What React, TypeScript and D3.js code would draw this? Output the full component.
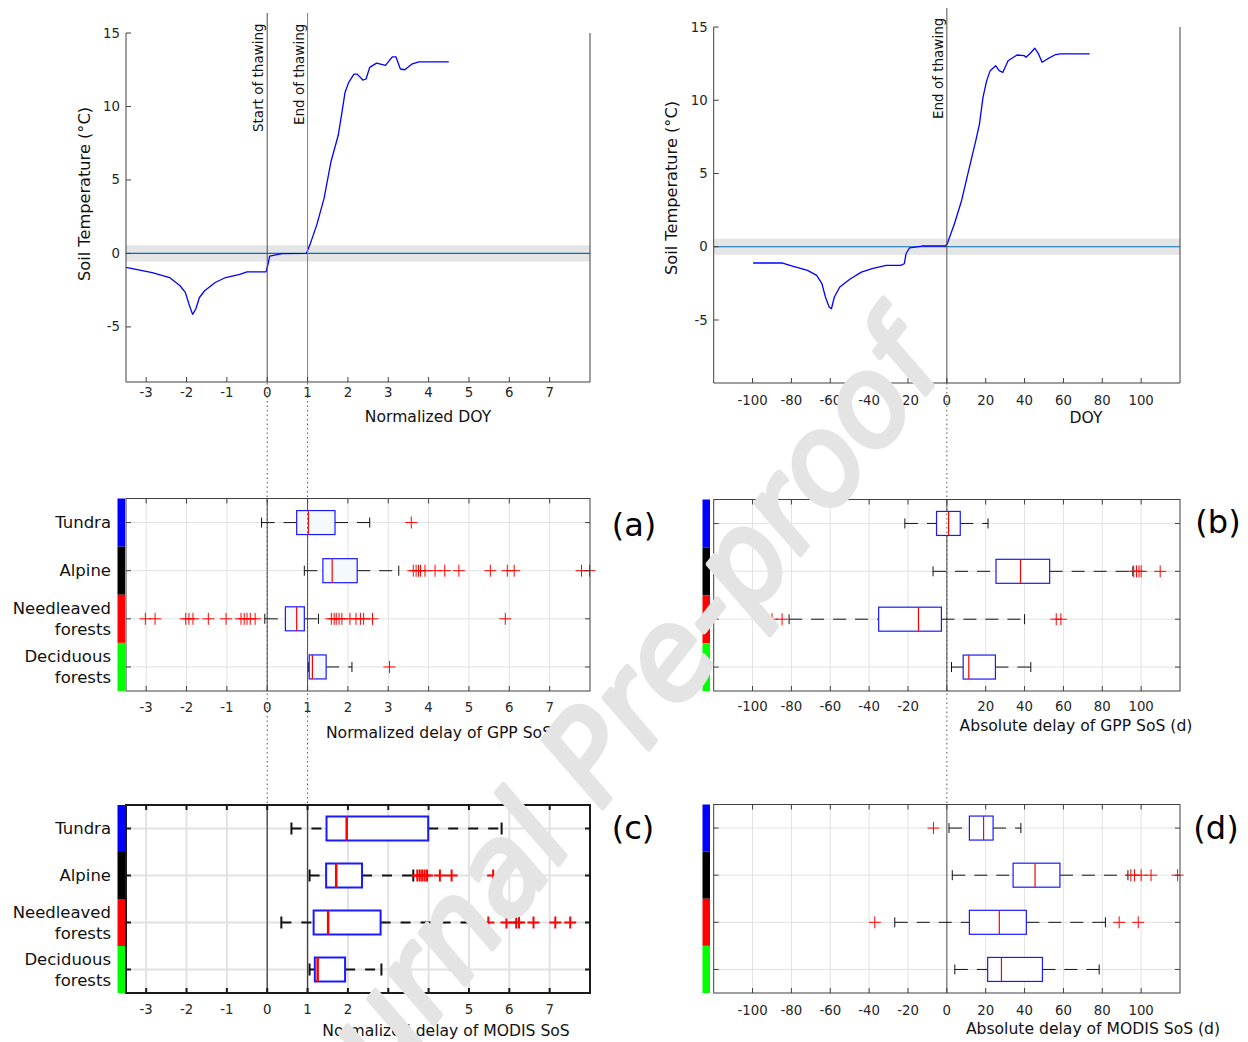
import React from "react";
import * as d3 from "d3";

const FONT = "'DejaVu Sans', Verdana, sans-serif";

// Soil temperature curve vs normalized DOY
const normCurve: [number, number][] = [
  [-3.5, -0.95], [-2.85, -1.3], [-2.42, -1.64], [-2.16, -2.2], [-2.03, -2.65], [-1.94, -3.44],
  [-1.85, -4.15], [-1.77, -3.78], [-1.68, -3.0], [-1.55, -2.54], [-1.29, -1.98], [-1.03, -1.64],
  [-0.68, -1.42], [-0.5, -1.26], [-0.03, -1.26], [0.02, -0.74], [0.06, -0.18], [0.37, -0.02],
  [0.97, 0], [1.06, 0.6], [1.23, 1.96], [1.41, 3.76], [1.58, 6.24], [1.76, 8.04], [1.84, 9.4],
  [1.93, 10.97], [2.02, 11.64], [2.15, 12.2], [2.23, 12.2], [2.37, 11.8], [2.45, 11.87],
  [2.54, 12.66], [2.71, 12.95], [2.93, 12.8], [3.1, 13.38], [3.19, 13.38], [3.3, 12.55],
  [3.41, 12.5], [3.58, 12.88], [3.76, 13.04], [4.5, 13.04],
];

// Soil temperature curve vs DOY
const doyCurve: [number, number][] = [
  [-99.7, -1.11], [-84.6, -1.11], [-79, -1.34], [-71.7, -1.61], [-67, -1.95], [-64.3, -2.52],
  [-62.5, -3.43], [-60.6, -4.11], [-59.4, -4.23], [-57.9, -3.43], [-55.1, -2.75], [-49.6, -2.18],
  [-44, -1.73], [-38.5, -1.5], [-31.2, -1.27], [-23.8, -1.27], [-21.9, -1.16], [-21, -0.48],
  [-19.2, -0.07], [-12.7, 0.05], [-0.7, 0.05], [0.2, 0.2], [3.9, 1.57], [7.6, 3.16], [11.2, 5.2],
  [14.9, 7.25], [16.8, 8.39], [18.6, 10.2], [20.5, 11.34], [22.3, 12.02], [25.1, 12.36],
  [26.9, 12.02], [28.8, 11.9], [31.5, 12.7], [36.1, 13.09], [39.8, 13.05], [40.7, 12.93],
  [42.6, 13.16], [45.3, 13.55], [47.2, 13.16], [49, 12.59], [51.8, 12.82], [55.5, 13.09],
  [58.2, 13.16], [73.5, 13.16],
];

const categories = ["Tundra", "Alpine", "Needleaved forests", "Deciduous forests"];
const categoryLines = [["Tundra"], ["Alpine"], ["Needleaved", "forests"], ["Deciduous", "forests"]];
const categoryColors = ["#0000ff", "#000000", "#ff0000", "#00ff00"];

// [lower whisker, q1, median, q3, upper whisker]
const gppNormBoxes = [
  [-0.14, 0.73, 1.02, 1.68, 2.54],
  [0.92, 1.38, 1.61, 2.23, 3.26],
  [-0.06, 0.45, 0.73, 0.92, 1.27],
  [1.02, 1.04, 1.12, 1.46, 2.1],
];
const gppNormOutliers = [
  [3.57],
  [3.62, 3.69, 3.75, 3.8, 3.91, 4.16, 4.4, 4.75, 5.53, 5.95, 6.12, 7.79, 7.99],
  [-3.02, -2.78, -2.02, -1.94, -1.84, -1.46, -1.02, -0.65, -0.57, -0.5, -0.42, -0.3,
    1.59, 1.66, 1.71, 1.78, 1.85, 2.05, 2.2, 2.31, 2.39, 2.61, 5.9],
  [3.03],
];

const gppAbsBoxes = [
  [-21.6, -5.3, 0.9, 6.9, 21.2],
  [-7.1, 25.3, 37.9, 52.9, 95.7],
  [-81.2, -35.1, -14.6, -2.8, 40],
  [2.4, 8.4, 11.3, 25, 43.2],
];
const gppAbsOutliers = [[], [96.2, 97.6, 98.9, 100, 109.8], [-90, -84.8, 56.3, 58.7], []];

const modisNormBoxes = [
  [0.6, 1.47, 1.97, 3.99, 5.81],
  [1.05, 1.46, 1.71, 2.35, 3.62],
  [0.35, 1.15, 1.51, 2.81, 5.19],
  [1.05, 1.18, 1.25, 1.93, 2.83],
];
const modisNormOutliers = [
  [],
  [3.72, 3.78, 3.84, 3.9, 3.96, 4.28, 4.57, 5.6, 6.5],
  [5.48, 5.93, 6.17, 6.24, 6.6, 7.14, 7.51],
  [4.66],
];

const modisAbsBoxes = [
  [1.1, 11.6, 18.9, 23.8, 38.1],
  [2.8, 34.1, 45.4, 58.2, 93.2],
  [-26.8, 11.6, 27, 40.9, 81.6],
  [4.1, 21, 28.1, 49.2, 78.4],
];
const modisAbsOutliers = [[-6.9], [94.7, 96.6, 100, 105.1, 118.8], [-37.1, 88.7, 98.5], []];

const normTicks = [-3, -2, -1, 0, 1, 2, 3, 4, 5, 6, 7];
const doyTicks = [-100, -80, -60, -40, -20, 0, 20, 40, 60, 80, 100];
const tempTicks = [-5, 0, 5, 10, 15];

const AX = "#404040";
const TXT = "#262626";
const TICK_FS = 13.3;
const LABEL_FS = 15.6;

function TempPanel(p: any) {
  const { x, y, xTicks, curve, xlabel, xlabelX, xlabelY, ylabelX, ylabelY, tickLabelY, vlines } = p;
  const [x0, x1] = x.range();
  const [yb, yt] = y.range();
  const line = d3.line<[number, number]>().x((d) => x(d[0])).y((d) => y(d[1]));
  return (
    <g>
      <rect x={x0} y={y(0.55)} width={x1 - x0} height={y(-0.55) - y(0.55)} fill="#e5e5e5" />
      <line x1={x0} x2={x1} y1={y(0)} y2={y(0)} stroke="#0072bd" strokeWidth={1.2} />
      <path d={line(curve) || ""} fill="none" stroke="#0000ff" strokeWidth={1.3} strokeLinejoin="round" />
      {vlines.map((v: any, i: number) => (
        <g key={i}>
          <line x1={x(v.v)} x2={x(v.v)} y1={v.top} y2={yb} stroke={v.color} strokeWidth={1} />
          <text
            transform={`translate(${x(v.v) - 4},${v.start}) rotate(-90)`}
            fontSize={13.5}
            fill="#111"
          >
            {v.label}
          </text>
        </g>
      ))}
      <line x1={x0} x2={x0} y1={yt} y2={yb} stroke={AX} />
      <line x1={x1} x2={x1} y1={yt} y2={yb} stroke={AX} />
      <line x1={x0} x2={x1} y1={yb} y2={yb} stroke={AX} />
      {xTicks.map((t: number) => (
        <g key={"x" + t}>
          <line x1={x(t)} x2={x(t)} y1={yb} y2={yb - 5} stroke={AX} />
          <text x={x(t)} y={tickLabelY} textAnchor="middle" dominantBaseline="central" fontSize={TICK_FS} fill={TXT}>
            {t}
          </text>
        </g>
      ))}
      {tempTicks.map((t) => (
        <g key={"y" + t}>
          <line x1={x0} x2={x0 + 5} y1={y(t)} y2={y(t)} stroke={AX} />
          <text x={x0 - 6} y={y(t)} textAnchor="end" dominantBaseline="central" fontSize={TICK_FS} fill={TXT}>
            {t}
          </text>
        </g>
      ))}
      <text x={xlabelX} y={xlabelY} textAnchor="middle" dominantBaseline="central" fontSize={LABEL_FS} fill="#111">
        {xlabel}
      </text>
      <text
        transform={`translate(${ylabelX},${ylabelY}) rotate(-90)`}
        textAnchor="middle"
        fontSize={16.2}
        fill="#111"
      >
        Soil Temperature (°C)
      </text>
    </g>
  );
}

function BoxPanel(p: any) {
  const {
    x, top, bottom, boxes, outliers, ticks, skipLabels, xlabel, xlabelX, xlabelY, tickLabelY,
    letter, letterX, letterY, showNames, heavy, fill, refLines, barX,
  } = p;
  const [x0, x1] = x.range();
  const yb = d3.scaleBand<string>().domain(categories).range([top, bottom]);
  const bw = yb.bandwidth();
  const cy = (i: number) => (yb(categories[i]) as number) + bw / 2;
  const sw = heavy ? 2 : 1;
  const hh = 12;
  const cap = heavy ? 6 : 5;
  const ms = 6;
  const dash = heavy ? "10,10" : "13,9";
  const frameColor = heavy ? "#1a1a1a" : AX;
  return (
    <g>
      {ticks.map((t: number) => (
        <line key={"g" + t} x1={x(t)} x2={x(t)} y1={top} y2={bottom} stroke="#e2e2e2" strokeWidth={heavy ? 2 : 1} />
      ))}
      {categories.map((c, i) => (
        <line key={"h" + c} x1={x0} x2={x1} y1={cy(i)} y2={cy(i)} stroke="#e2e2e2" strokeWidth={heavy ? 2 : 1} />
      ))}
      {refLines.map((r: any, i: number) => (
        <line key={"r" + i} x1={x(r.v)} x2={x(r.v)} y1={top} y2={bottom} stroke={r.color} strokeWidth={heavy ? 1.3 : 1} />
      ))}
      {boxes.map((b: number[], i: number) => {
        const c = cy(i);
        return (
          <g key={"b" + i}>
            <line x1={x(b[0])} x2={x(b[1])} y1={c} y2={c} stroke="#111" strokeWidth={sw} strokeDasharray={dash} />
            <line x1={x(b[3])} x2={x(b[4])} y1={c} y2={c} stroke="#111" strokeWidth={sw} strokeDasharray={dash} />
            <line x1={x(b[0])} x2={x(b[0])} y1={c - cap} y2={c + cap} stroke="#111" strokeWidth={sw} />
            <line x1={x(b[4])} x2={x(b[4])} y1={c - cap} y2={c + cap} stroke="#111" strokeWidth={sw} />
            <rect x={x(b[1])} y={c - hh} width={x(b[3]) - x(b[1])} height={2 * hh} fill={fill} stroke="#1a1aff" strokeWidth={heavy ? 2 : 1.2} />
            <line x1={x(b[2])} x2={x(b[2])} y1={c - hh} y2={c + hh} stroke="#ff0000" strokeWidth={heavy ? 2.5 : 1.2} />
            {outliers[i].map((o: number, j: number) => (
              <path
                key={j}
                d={`M${x(o) - ms},${c}H${x(o) + ms}M${x(o)},${c - ms}V${c + ms}`}
                stroke="#ff0000"
                strokeWidth={heavy ? 2 : 1}
                fill="none"
              />
            ))}
          </g>
        );
      })}
      <rect x={x0} y={top} width={x1 - x0} height={bottom - top} fill="none" stroke={frameColor} strokeWidth={heavy ? 2 : 1} />
      {ticks.map((t: number) => (
        <g key={"t" + t}>
          <line x1={x(t)} x2={x(t)} y1={bottom} y2={bottom - 5} stroke={frameColor} strokeWidth={sw} />
          <line x1={x(t)} x2={x(t)} y1={top} y2={top + 5} stroke={frameColor} strokeWidth={sw} />
          {skipLabels.includes(t) ? null : (
            <text x={x(t)} y={tickLabelY} textAnchor="middle" dominantBaseline="central" fontSize={TICK_FS} fill={TXT}>
              {t}
            </text>
          )}
        </g>
      ))}
      {categories.map((c, i) => (
        <g key={"c" + c}>
          <line x1={x0} x2={x0 + 5} y1={cy(i)} y2={cy(i)} stroke={frameColor} strokeWidth={sw} />
          <line x1={x1} x2={x1 - 5} y1={cy(i)} y2={cy(i)} stroke={frameColor} strokeWidth={sw} />
          <rect x={barX} y={yb(c) as number} width={7.5} height={bw} fill={categoryColors[i]} />
          {showNames &&
            categoryLines[i].map((l, k) => (
              <text
                key={k}
                x={111}
                y={cy(i) + (k - (categoryLines[i].length - 1) / 2) * 21}
                textAnchor="end"
                dominantBaseline="central"
                fontSize={16.5}
                fill="#111"
              >
                {l}
              </text>
            ))}
        </g>
      ))}
      <text x={xlabelX} y={xlabelY} textAnchor="middle" dominantBaseline="central" fontSize={LABEL_FS} fill="#111">
        {xlabel}
      </text>
      <text x={letterX} y={letterY} textAnchor="middle" dominantBaseline="central" fontSize={32} fill="#000">
        {letter}
      </text>
    </g>
  );
}

export default function App() {
  const xN = d3.scaleLinear().domain([-3.5, 8]).range([126, 590]);
  const xD = d3.scaleLinear().domain([-120, 120]).range([713.7, 1180]);
  const yL = d3.scaleLinear().domain([-8.75, 15]).range([382, 33]);
  const yR = d3.scaleLinear().domain([-9.3, 15]).range([383, 27]);

  return (
    <svg
      width={1248}
      height={1042}
      style={{ position: "absolute", left: 0, top: 0, background: "#fff" }}
      fontFamily={FONT}
    >
      <rect x={0} y={0} width={1248} height={1042} fill="#fff" />
      <TempPanel
        x={xN}
        y={yL}
        xTicks={normTicks}
        curve={normCurve}
        xlabel="Normalized DOY"
        xlabelX={428}
        xlabelY={417}
        ylabelX={90}
        ylabelY={194}
        tickLabelY={392}
        vlines={[
          { v: 0, label: "Start of thawing", color: "#505050", top: 13, start: 132 },
          { v: 1, label: "End of thawing", color: "#808080", top: 13, start: 125 },
        ]}
      />
      <TempPanel
        x={xD}
        y={yR}
        xTicks={doyTicks}
        curve={doyCurve}
        xlabel="DOY"
        xlabelX={1086}
        xlabelY={418}
        ylabelX={677}
        ylabelY={188}
        tickLabelY={400}
        vlines={[{ v: 0, label: "End of thawing", color: "#505050", top: 8, start: 119 }]}
      />
      <BoxPanel
        x={xN}
        top={498.5}
        bottom={691}
        boxes={gppNormBoxes}
        outliers={gppNormOutliers}
        ticks={normTicks}
        skipLabels={[]}
        xlabel="Normalized delay of GPP SoS"
        xlabelX={439}
        xlabelY={733}
        tickLabelY={707}
        letter="(a)"
        letterX={634}
        letterY={525}
        showNames={true}
        heavy={false}
        fill="#f3f9fc"
        barX={117.5}
        refLines={[{ v: 0, color: "#555" }, { v: 1, color: "#555" }]}
      />
      <BoxPanel
        x={xD}
        top={499.5}
        bottom={691}
        boxes={gppAbsBoxes}
        outliers={gppAbsOutliers}
        ticks={doyTicks}
        skipLabels={[0]}
        xlabel="Absolute delay of GPP SoS (d)"
        xlabelX={1076}
        xlabelY={726}
        tickLabelY={706}
        letter="(b)"
        letterX={1218}
        letterY={522}
        showNames={false}
        heavy={false}
        fill="#ffffff"
        barX={702.5}
        refLines={[{ v: 0, color: "#555" }]}
      />
      <BoxPanel
        x={xN}
        top={805}
        bottom={993}
        boxes={modisNormBoxes}
        outliers={modisNormOutliers}
        ticks={normTicks}
        skipLabels={[]}
        xlabel="Normalized delay of MODIS SoS"
        xlabelX={446}
        xlabelY={1031}
        tickLabelY={1009}
        letter="(c)"
        letterX={633}
        letterY={828}
        showNames={true}
        heavy={true}
        fill="#ffffff"
        barX={117.5}
        refLines={[{ v: 0, color: "#444" }, { v: 1, color: "#444" }]}
      />
      <BoxPanel
        x={xD}
        top={804.5}
        bottom={993}
        boxes={modisAbsBoxes}
        outliers={modisAbsOutliers}
        ticks={doyTicks}
        skipLabels={[]}
        xlabel="Absolute delay of MODIS SoS (d)"
        xlabelX={1093}
        xlabelY={1029}
        tickLabelY={1010}
        letter="(d)"
        letterX={1216}
        letterY={828}
        showNames={false}
        heavy={false}
        fill="#ffffff"
        barX={702.5}
        refLines={[{ v: 0, color: "#555" }]}
      />
      {[xN(0), xN(1), xD(0)].map((xx, i) => (
        <line key={"d" + i} x1={xx} x2={xx} y1={383} y2={805} stroke="#555" strokeWidth={1} strokeDasharray="1.5,3" />
      ))}
      <text
        transform="translate(947,367) rotate(-52)"
        textAnchor="end"
        fontSize={122}
        fontStyle="italic"
        fill="#e4e4e4"
        stroke="#e4e4e4"
        strokeWidth={5}
        strokeLinejoin="round"
      >
        Journal Pre-proof
      </text>
    </svg>
  );
}
